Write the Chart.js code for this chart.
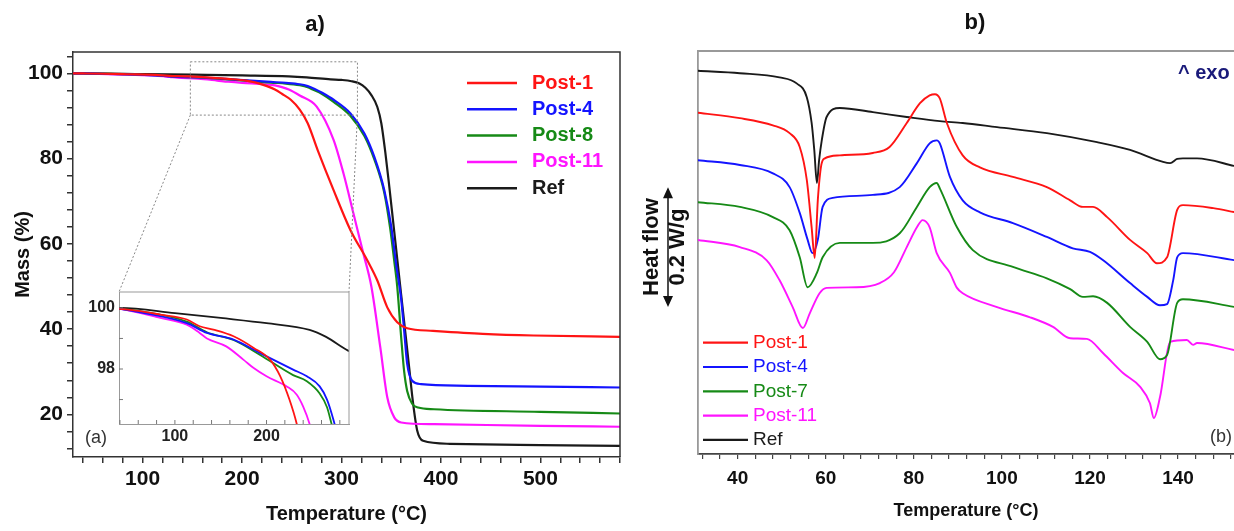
<!DOCTYPE html>
<html lang="en">
<head>
<meta charset="UTF-8">
<title>TGA / DSC</title>
<script src="https://cdn.jsdelivr.net/npm/chart.js"></script>
<style>
  html, body { margin: 0; padding: 0; background: #fff; overflow: hidden; }
  #wrap { position: relative; width: 1234px; height: 531px; }
  canvas { position: absolute; }
  #tga { left: 0; top: 0; }
  #inset { left: 80px; top: 286px; }
  #dsc { left: 630px; top: 0; }
</style>
</head>
<body>
<div id="wrap">
  <canvas id="tga" width="630" height="531"></canvas>
  <canvas id="inset" width="272" height="168"></canvas>
  <canvas id="dsc" width="604" height="531"></canvas>
</div>

<script>
// ---------- a) TGA : mass (%) vs temperature (°C)
const tgaNames = ['Post-1', 'Post-4', 'Post-8', 'Post-11', 'Ref'];

const tempPost1 = [30, 40, 60, 84, 113, 127, 142, 164, 186, 204, 215, 225, 233, 240, 249, 258, 266, 276, 292, 309, 326, 336, 346, 356, 366, 392, 442, 493, 580];
const massPost1 = [100, 99.97, 99.9, 99.78, 99.62, 99.4, 99.29, 99.07, 98.69, 98.3, 97.76, 97.0, 96.2, 95.2, 93.8, 91.5, 88.3, 82.0, 72.6, 63.2, 56.1, 51.4, 45.1, 41.6, 40.2, 39.6, 38.9, 38.5, 38.2];

const tempPost4 = [30, 40, 65, 113, 135, 164, 193, 229, 244, 258, 266, 273, 280, 292, 309, 323, 333, 343, 350, 355, 360, 363, 366, 371, 380, 427, 500, 580];
const massPost4 = [100, 99.97, 99.84, 99.5, 99.18, 98.96, 98.52, 97.98, 97.76, 97.43, 97.0, 96.34, 95.5, 93.8, 90.6, 85.9, 80.4, 72.6, 64.0, 55.0, 47.0, 39.6, 31.9, 27.9, 27.1, 26.7, 26.5, 26.3];

const tempPost8 = [30, 40, 65, 113, 135, 164, 193, 229, 244, 258, 266, 271, 280, 292, 309, 323, 333, 343, 349, 353, 356, 360, 363, 366, 371, 377, 393, 500, 580];
const massPost8 = [100, 99.97, 99.88, 99.55, 99.2, 98.95, 98.46, 97.8, 97.6, 97.2, 96.75, 96.2, 95.2, 93.3, 90.0, 85.3, 79.8, 72.0, 63.5, 56.0, 50.0, 38.0, 30.0, 25.5, 22.5, 21.6, 21.2, 20.6, 20.2];

const tempPost11 = [30, 40, 84, 113, 127, 135, 156, 175, 186, 200, 222, 233, 240, 247, 258, 275, 292, 302, 312, 322, 330, 339, 346, 353, 360, 393, 500, 580];
const massPost11 = [100, 99.97, 99.67, 99.45, 99.18, 99.0, 98.74, 98.3, 98.03, 97.76, 97.43, 97.16, 96.77, 96.2, 94.8, 92.2, 84.4, 76.5, 67.1, 57.7, 50.0, 35.7, 24.0, 19.3, 18.1, 17.7, 17.3, 17.1];

const tempRef = [30, 40, 100, 150, 200, 247, 265, 289, 300, 310, 318, 324, 330, 336, 340, 344, 348, 352, 356, 360, 364, 368, 372, 376, 382, 409, 500, 580];
const massRef = [100, 100, 99.83, 99.67, 99.5, 99.28, 99.05, 98.6, 98.45, 98.15, 97.6, 96.6, 94.9, 92.1, 88.3, 81.5, 73.5, 65.0, 56.5, 48.0, 39.5, 31.0, 22.5, 16.3, 13.8, 13.1, 12.8, 12.6];

const tgaXLabels = [100, 200, 300, 400, 500];
const tgaYLabels = [20, 40, 60, 80, 100];
const insetXLabels = [100, 200];
const insetYLabels = [98, 100];

// zoomed window drawn on the main plot (temperature, mass)
const zoomBoxT = [148, 316];
const zoomBoxMass = [90.2, 102.7];

// ---------- b) DSC : heat flow (W/g, shifted) vs temperature (°C)
const dscNames = ['Post-1', 'Post-4', 'Post-7', 'Post-11', 'Ref'];

const dscTempPost1 = [30.9, 40.5, 48.0, 51.8, 54.1, 55.7, 56.8, 57.5, 58.2, 59.0, 59.8, 63.2, 70.7, 74.5, 78.4, 81.4, 83.6, 84.8, 85.9, 87.5, 91.1, 95.0, 102.5, 110.2, 115.5, 118.4, 120.7, 123.9, 129.1, 133.0, 135.2, 137.5, 139.8, 141.1, 148.0, 153];
const dscPost1 = [0.569, 0.560, 0.548, 0.535, 0.512, 0.457, 0.378, 0.327, 0.423, 0.482, 0.493, 0.498, 0.502, 0.512, 0.552, 0.585, 0.598, 0.600, 0.593, 0.552, 0.498, 0.478, 0.462, 0.445, 0.423, 0.412, 0.412, 0.395, 0.357, 0.335, 0.318, 0.328, 0.407, 0.415, 0.410, 0.403];

const dscTempPost4 = [30.9, 40.5, 48.0, 51.8, 54.1, 55.9, 57.0, 58.2, 59.3, 61.6, 70.7, 76.8, 80.7, 83.6, 85.2, 85.9, 88.2, 91.1, 95.0, 102.5, 110.2, 116.1, 120.0, 123.0, 129.1, 133.0, 135.9, 137.5, 138.9, 139.8, 141.1, 153];
const dscPost4 = [0.490, 0.482, 0.468, 0.445, 0.402, 0.357, 0.335, 0.357, 0.412, 0.427, 0.432, 0.445, 0.485, 0.518, 0.523, 0.518, 0.462, 0.423, 0.403, 0.385, 0.362, 0.343, 0.337, 0.323, 0.285, 0.262, 0.248, 0.250, 0.290, 0.328, 0.335, 0.323];

const dscTempPost7 = [30.9, 40.5, 48.0, 51.8, 54.1, 55.9, 58.0, 59.3, 63.2, 70.7, 76.8, 80.7, 83.6, 85.2, 85.9, 89.8, 93.4, 102.5, 110.2, 115.5, 118.4, 120.7, 123.9, 129.1, 133.0, 135.9, 137.5, 139.8, 141.1, 153];
const dscPost7 = [0.420, 0.412, 0.395, 0.373, 0.328, 0.278, 0.302, 0.328, 0.352, 0.352, 0.368, 0.412, 0.445, 0.452, 0.443, 0.378, 0.340, 0.312, 0.293, 0.275, 0.262, 0.263, 0.252, 0.212, 0.187, 0.158, 0.165, 0.252, 0.258, 0.245];

const dscTempPost11 = [30.9, 40.5, 46.6, 49.5, 52.5, 54.8, 56.4, 58.6, 60.2, 67.0, 72.3, 75.5, 78.4, 80.7, 82.0, 83.6, 85.2, 88.2, 89.8, 91.1, 98.9, 106.4, 111.6, 115.5, 119.3, 123.0, 127.5, 131.4, 133.6, 134.5, 135.9, 138.2, 142.0, 143.4, 144.3, 153];
const dscPost11 = [0.357, 0.345, 0.323, 0.290, 0.245, 0.210, 0.235, 0.268, 0.277, 0.278, 0.285, 0.303, 0.345, 0.378, 0.390, 0.378, 0.335, 0.302, 0.277, 0.268, 0.245, 0.228, 0.212, 0.193, 0.192, 0.168, 0.135, 0.112, 0.085, 0.060, 0.095, 0.187, 0.190, 0.182, 0.185, 0.173];

const dscTempRef = [30.9, 40.5, 49.5, 53.4, 55.7, 56.8, 57.4, 58.0, 58.5, 59.1, 60.2, 63.2, 70.7, 78.4, 85.9, 91.1, 98.9, 110.2, 121.6, 129.1, 136.6, 138.2, 139.8, 141.1, 144.3, 153];
const dscRef = [0.639, 0.635, 0.628, 0.618, 0.595, 0.552, 0.507, 0.452, 0.490, 0.523, 0.562, 0.577, 0.570, 0.562, 0.555, 0.552, 0.545, 0.535, 0.520, 0.507, 0.487, 0.485, 0.492, 0.493, 0.493, 0.480];

const dscXLabels = [40, 60, 80, 100, 120, 140];
const heatBar = [0.245, 0.445];   // 0.2 W/g scale bar

// ---------- styling
const FONT = '"Liberation Sans", Arial, Helvetica, sans-serif';
Chart.defaults.font.family = FONT;
Chart.defaults.color = '#111';
const colors = ['#ff1414', '#1414ff', '#168a16', '#ff14ff', '#1a1a1a'];

const tgaTemps = [tempPost1, tempPost4, tempPost8, tempPost11, tempRef];
const tgaMass = [massPost1, massPost4, massPost8, massPost11, massRef];
const dscTemps = [dscTempPost1, dscTempPost4, dscTempPost7, dscTempPost11, dscTempRef];
const dscFlow = [dscPost1, dscPost4, dscPost7, dscPost11, dscRef];

function toPoints(xs, ys) {
  return xs.map((x, i) => ({ x: x, y: ys[i] }));
}

function lineSet(label, color, xs, ys, width) {
  return {
    label: label,
    data: toPoints(xs, ys),
    borderColor: color,
    backgroundColor: color,
    borderWidth: width,
    pointRadius: 0,
    fill: false,
    cubicInterpolationMode: 'monotone'
  };
}

// force axis box sizes so the plot areas land where they are in the figure
function fixSize(w, h) {
  return function (scale) {
    if (w !== null) scale.width = w;
    if (h !== null) scale.height = h;
    scale.paddingTop = 0; scale.paddingBottom = 0;
    scale.paddingLeft = 0; scale.paddingRight = 0;
  };
}

function onlyLabels(list) {
  return function (v) { return list.includes(v) ? v : ''; };
}

const baseOpts = {
  responsive: false,
  animation: false,
  events: [],
  plugins: { legend: { display: false }, tooltip: { enabled: false } }
};

// ---------- inset (zoom of the first mass loss)
const insetDecor = {
  id: 'insetDecor',
  beforeDraw(chart) {
    const { ctx, chartArea: ca } = chart;
    ctx.save();
    ctx.fillStyle = '#fff';
    ctx.fillRect(ca.left, ca.top, ca.right - ca.left, ca.bottom - ca.top);
    ctx.restore();
  },
  afterDraw(chart) {
    const { ctx, chartArea: ca, scales: { x, y } } = chart;
    ctx.save();
    ctx.strokeStyle = '#999';
    ctx.lineWidth = 1;
    ctx.beginPath();
    ctx.moveTo(ca.left, ca.top); ctx.lineTo(ca.right, ca.top); ctx.lineTo(ca.right, ca.bottom);
    ctx.stroke();
    // inward ticks
    ctx.strokeStyle = '#777';
    ctx.beginPath();
    x.ticks.forEach(t => {
      const px = x.getPixelForValue(t.value);
      ctx.moveTo(px, ca.bottom); ctx.lineTo(px, ca.bottom - 4);
    });
    y.ticks.forEach(t => {
      const py = y.getPixelForValue(t.value);
      ctx.moveTo(ca.left, py); ctx.lineTo(ca.left + 4, py);
    });
    ctx.stroke();
    ctx.restore();
  }
};

const insetChart = new Chart(document.getElementById('inset'), {
  type: 'line',
  data: { datasets: tgaNames.map((n, i) => lineSet(n, colors[i], tgaTemps[i], tgaMass[i], 1.8)) },
  options: Object.assign({}, baseOpts, {
    layout: { padding: { top: 6, right: 3, left: 0, bottom: 0 } },
    scales: {
      x: {
        type: 'linear', min: 39, max: 290,
        ticks: { stepSize: 20, includeBounds: false, autoSkip: false, maxRotation: 0, padding: 3,
                 font: { size: 16, weight: 'bold' }, color: '#222', callback: onlyLabels(insetXLabels) },
        grid: { drawOnChartArea: false, drawTicks: false },
        border: { color: '#999', width: 1 },
        afterFit: fixSize(null, 30)
      },
      y: {
        type: 'linear', min: 96.2, max: 100.52,
        ticks: { stepSize: 1, includeBounds: false, autoSkip: false, padding: 4,
                 font: { size: 16, weight: 'bold' }, color: '#222', callback: onlyLabels(insetYLabels) },
        grid: { drawOnChartArea: false, drawTicks: false },
        border: { color: '#999', width: 1 },
        afterFit: fixSize(39, null)
      }
    }
  }),
  plugins: [insetDecor]
});

// ---------- a) main TGA
const tgaDecor = {
  id: 'tgaDecor',
  afterDraw(chart) {
    const { ctx, chartArea: ca, scales: { x, y } } = chart;
    ctx.save();
    ctx.strokeStyle = '#333';
    ctx.lineWidth = 1.5;
    ctx.beginPath();
    ctx.moveTo(ca.left, ca.top); ctx.lineTo(ca.right, ca.top); ctx.lineTo(ca.right, ca.bottom);
    ctx.stroke();

    // dotted zoom window and leader lines to the inset
    const bx1 = x.getPixelForValue(zoomBoxT[0]), bx2 = x.getPixelForValue(zoomBoxT[1]);
    const by1 = y.getPixelForValue(zoomBoxMass[1]), by2 = y.getPixelForValue(zoomBoxMass[0]);
    const ia = insetChart.chartArea, ic = insetChart.canvas;
    ctx.setLineDash([2, 2]);
    ctx.strokeStyle = '#888';
    ctx.lineWidth = 1;
    ctx.strokeRect(bx1, by1, bx2 - bx1, by2 - by1);
    ctx.beginPath();
    ctx.moveTo(bx1, by2); ctx.lineTo(ic.offsetLeft + ia.left, ic.offsetTop + ia.top);
    ctx.moveTo(bx2, by2); ctx.lineTo(ic.offsetLeft + ia.right, ic.offsetTop + ia.top);
    ctx.stroke();
    ctx.setLineDash([]);

    // legend
    ctx.font = 'bold 20px ' + FONT;
    ctx.textBaseline = 'middle';
    ctx.textAlign = 'left';
    chart.data.datasets.forEach((ds, i) => {
      const ly = 83 + i * 26.3;
      ctx.strokeStyle = ds.borderColor;
      ctx.lineWidth = 2.5;
      ctx.beginPath(); ctx.moveTo(467, ly); ctx.lineTo(517, ly); ctx.stroke();
      ctx.fillStyle = ds.borderColor;
      ctx.fillText(ds.label, 532, ly);
    });

    ctx.font = '18px ' + FONT;
    ctx.fillStyle = '#333';
    ctx.fillText('(a)', 85, 438);

    ctx.font = 'bold 22px ' + FONT;
    ctx.fillStyle = '#111';
    ctx.textAlign = 'center';
    ctx.textBaseline = 'alphabetic';
    ctx.fillText('a)', 315, 31);
    ctx.restore();
  }
};

new Chart(document.getElementById('tga'), {
  type: 'line',
  data: { datasets: tgaNames.map((n, i) => lineSet(n, colors[i], tgaTemps[i], tgaMass[i], 2.2)) },
  options: Object.assign({}, baseOpts, {
    layout: { padding: { top: 52, right: 10, left: 0, bottom: 0 } },
    scales: {
      x: {
        type: 'linear', min: 30, max: 580,
        title: { display: true, text: 'Temperature (°C)', font: { size: 20, weight: 'bold' }, color: '#111', padding: { bottom: 5 } },
        ticks: { stepSize: 20, includeBounds: false, autoSkip: false, maxRotation: 0, padding: 4,
                 font: { size: 21, weight: 'bold' }, color: '#111', callback: onlyLabels(tgaXLabels) },
        grid: { drawOnChartArea: false, tickLength: 6, color: '#333', lineWidth: 1.5 },
        border: { color: '#333', width: 1.5 },
        afterFit: fixSize(null, 74)
      },
      y: {
        type: 'linear', min: 10, max: 105,
        title: { display: true, text: 'Mass (%)', font: { size: 20, weight: 'bold' }, color: '#111', padding: { top: 11 } },
        ticks: { stepSize: 4, includeBounds: false, autoSkip: false, padding: 4,
                 font: { size: 21, weight: 'bold' }, color: '#111', callback: onlyLabels(tgaYLabels) },
        grid: { drawOnChartArea: false, tickLength: 6, color: '#333', lineWidth: 1.5 },
        border: { color: '#333', width: 1.5 },
        afterFit: fixSize(73, null)
      }
    }
  }),
  plugins: [tgaDecor]
});

// ---------- b) DSC
const dscDecor = {
  id: 'dscDecor',
  afterDraw(chart) {
    const { ctx, chartArea: ca, scales: { y } } = chart;
    ctx.save();
    ctx.strokeStyle = '#999';
    ctx.lineWidth = 1.8;
    ctx.beginPath(); ctx.moveTo(ca.left, ca.top); ctx.lineTo(ca.right, ca.top); ctx.stroke();

    // heat flow scale bar (0.2 W/g)
    const yTop = y.getPixelForValue(heatBar[1]), yBot = y.getPixelForValue(heatBar[0]);
    const ax = 38;
    ctx.strokeStyle = '#111';
    ctx.fillStyle = '#111';
    ctx.lineWidth = 1.5;
    ctx.beginPath(); ctx.moveTo(ax, yTop + 8); ctx.lineTo(ax, yBot - 8); ctx.stroke();
    ctx.beginPath();
    ctx.moveTo(ax, yTop); ctx.lineTo(ax - 5, yTop + 11); ctx.lineTo(ax + 5, yTop + 11); ctx.closePath();
    ctx.moveTo(ax, yBot); ctx.lineTo(ax - 5, yBot - 11); ctx.lineTo(ax + 5, yBot - 11); ctx.closePath();
    ctx.fill();

    const mid = (yTop + yBot) / 2;
    ctx.font = 'bold 22px ' + FONT;
    ctx.textAlign = 'center';
    ctx.textBaseline = 'middle';
    ctx.save(); ctx.translate(22, mid); ctx.rotate(-Math.PI / 2); ctx.fillText('Heat flow', 0, 0); ctx.restore();
    ctx.save(); ctx.translate(48, mid); ctx.rotate(-Math.PI / 2); ctx.fillText('0.2 W/g', 0, 0); ctx.restore();

    // legend
    ctx.textAlign = 'left';
    ctx.font = '19px ' + FONT;
    chart.data.datasets.forEach((ds, i) => {
      const ly = 342.7 + i * 24.3;
      ctx.strokeStyle = ds.borderColor;
      ctx.lineWidth = 2.2;
      ctx.beginPath(); ctx.moveTo(73, ly); ctx.lineTo(118, ly); ctx.stroke();
      ctx.fillStyle = ds.borderColor;
      ctx.fillText(ds.label, 123, ly);
    });

    ctx.fillStyle = '#333';
    ctx.font = '18px ' + FONT;
    ctx.fillText('(b)', 580, 437);

    ctx.fillStyle = '#1a1a7a';
    ctx.font = 'bold 20px ' + FONT;
    ctx.fillText('^ exo', 548, 73);

    ctx.fillStyle = '#111';
    ctx.font = 'bold 22px ' + FONT;
    ctx.textAlign = 'center';
    ctx.textBaseline = 'alphabetic';
    ctx.fillText('b)', 345, 29);
    ctx.restore();
  }
};

new Chart(document.getElementById('dsc'), {
  type: 'line',
  data: { datasets: dscNames.map((n, i) => lineSet(n, colors[i], dscTemps[i], dscFlow[i], 1.9)) },
  options: Object.assign({}, baseOpts, {
    layout: { padding: { top: 51, right: 0, left: 0, bottom: 0 } },
    scales: {
      x: {
        type: 'linear', min: 31, max: 152.7,
        title: { display: true, text: 'Temperature (°C)', font: { size: 18, weight: 'bold' }, color: '#111', padding: { bottom: 9 } },
        ticks: { stepSize: 4, includeBounds: false, autoSkip: false, maxRotation: 0, padding: 8,
                 font: { size: 19, weight: 'bold' }, color: '#111', callback: onlyLabels(dscXLabels) },
        grid: { drawOnChartArea: false, tickLength: 5, color: '#444', lineWidth: 1.2 },
        border: { color: '#444', width: 1.8 },
        afterFit: fixSize(null, 77)
      },
      y: {
        type: 'linear', min: 0, max: 0.672,
        ticks: { display: false },
        grid: { drawOnChartArea: false, drawTicks: false },
        border: { color: '#999', width: 1.8 },
        afterFit: fixSize(68, null)
      }
    }
  }),
  plugins: [dscDecor]
});
</script>
</body>
</html>
